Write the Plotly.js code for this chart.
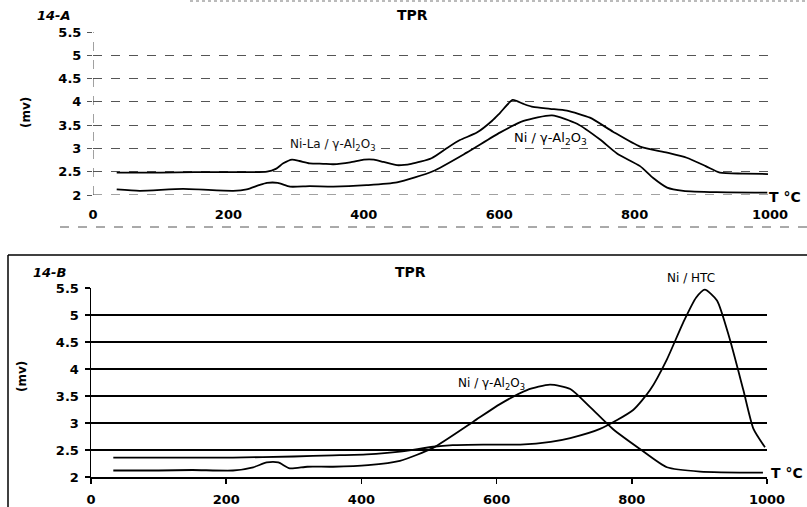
<!DOCTYPE html>
<html>
<head>
<meta charset="utf-8">
<script src="https://cdn.plot.ly/plotly-3.0.1.min.js"></script>
<style>html,body{margin:0;padding:0;background:#fff;}#chart{width:807px;height:507px;}</style>
</head>
<body>
<div id="chart"></div>
<script>
// ---- Data ----
// 14-A : Ni-La / γ-Al2O3
const tempA_NiLa = [35, 100, 150, 200, 257, 270, 281, 294, 305, 320, 340, 355, 380, 400, 415, 429, 449, 470, 500, 523, 542, 567, 590, 601, 620, 635, 650, 675, 700, 734, 768, 808, 848, 877, 905, 926, 960, 997];
const mvA_NiLa   = [2.48, 2.48, 2.49, 2.49, 2.50, 2.56, 2.68, 2.76, 2.73, 2.68, 2.67, 2.66, 2.70, 2.76, 2.76, 2.71, 2.64, 2.67, 2.79, 3.01, 3.18, 3.34, 3.60, 3.76, 4.04, 3.96, 3.89, 3.85, 3.81, 3.66, 3.36, 3.04, 2.91, 2.80, 2.62, 2.48, 2.46, 2.45];
// 14-A : Ni / γ-Al2O3
const tempA_Ni = [35, 69, 133, 207, 227, 245, 257, 273, 291, 320, 355, 404, 449, 502, 552, 601, 636, 678, 715, 749, 774, 808, 827, 848, 872, 921, 996];
const mvA_Ni   = [2.12, 2.09, 2.13, 2.09, 2.12, 2.21, 2.26, 2.26, 2.18, 2.19, 2.18, 2.21, 2.27, 2.51, 2.91, 3.34, 3.59, 3.71, 3.53, 3.19, 2.89, 2.62, 2.37, 2.16, 2.09, 2.06, 2.05];
// 14-B : Ni / γ-Al2O3
const tempB_Ni = [33, 100, 150, 210, 240, 260, 277, 294, 320, 358, 410, 457, 506, 565, 605, 645, 679, 709, 738, 772, 812, 852, 901, 994];
const mvB_Ni   = [2.12, 2.12, 2.13, 2.12, 2.18, 2.27, 2.27, 2.16, 2.19, 2.19, 2.22, 2.30, 2.54, 3.02, 3.35, 3.61, 3.71, 3.63, 3.30, 2.89, 2.52, 2.18, 2.10, 2.08];
// 14-B : Ni / HTC
const tempB_HTC = [33, 120, 210, 300, 358, 408, 457, 506, 535, 580, 635, 680, 709, 753, 802, 827, 852, 876, 895, 908, 926, 945, 965, 980, 997];
const mvB_HTC   = [2.36, 2.36, 2.36, 2.38, 2.40, 2.42, 2.47, 2.56, 2.59, 2.60, 2.60, 2.65, 2.72, 2.89, 3.24, 3.61, 4.18, 4.86, 5.32, 5.47, 5.27, 4.55, 3.61, 2.89, 2.55];

const xTicks = [0, 200, 400, 600, 800, 1000];
const yTicks = [2, 2.5, 3, 3.5, 4, 4.5, 5, 5.5];
const yTickText = ['2', '2.5', '3', '3.5', '4', '4.5', '5', '5.5'];

// ---- Layout helpers ----
const W = 807, H = 507;
const px = v => v / W;
const py = v => 1 - v / H;
const FONT = 'DejaVu Sans, Arial, sans-serif';
const tickFont = {family: FONT, size: 13, color: '#000', weight: 'bold'};
const lineStyle = {color: '#000', width: 1.8, shape: 'spline', smoothing: 0.6};

const traces = [
  {x: tempA_NiLa, y: mvA_NiLa, xaxis: 'x', yaxis: 'y', mode: 'lines', line: lineStyle, hoverinfo: 'skip'},
  {x: tempA_Ni, y: mvA_Ni, xaxis: 'x', yaxis: 'y', mode: 'lines', line: lineStyle, hoverinfo: 'skip'},
  {x: tempB_Ni, y: mvB_Ni, xaxis: 'x2', yaxis: 'y2', mode: 'lines', line: lineStyle, hoverinfo: 'skip'},
  {x: tempB_HTC, y: mvB_HTC, xaxis: 'x2', yaxis: 'y2', mode: 'lines', line: lineStyle, hoverinfo: 'skip'}
];

function xAxis(domain, anchor, solid) {
  return {
    domain: domain, anchor: anchor, range: [0, 1000], tickvals: xTicks, ticktext: xTicks.map(String),
    showgrid: false, zeroline: false, showline: solid, linecolor: '#000', linewidth: 1.5,
    ticks: solid ? 'outside' : '', ticklen: 5, tickcolor: '#000', tickwidth: 1.5,
    tickfont: tickFont, ticklabelstandoff: solid ? 5 : 10, fixedrange: true
  };
}
function yAxis(domain, anchor, solid) {
  return {
    domain: domain, anchor: anchor, range: [2, 5.5], tickvals: yTicks, ticktext: yTickText,
    showgrid: true, gridcolor: solid ? '#000' : '#555', gridwidth: solid ? 1.5 : 1,
    griddash: solid ? 'solid' : 'dash', zeroline: false,
    showline: solid, linecolor: '#000', linewidth: 1.5,
    ticks: 'outside', ticklen: 5, tickcolor: solid ? '#000' : '#555', tickwidth: solid ? 1.5 : 1,
    tickfont: tickFont, ticklabelstandoff: 3, fixedrange: true
  };
}

const layout = {
  width: W, height: H, margin: {l: 0, r: 0, t: 0, b: 0},
  paper_bgcolor: '#fff', plot_bgcolor: 'rgba(0,0,0,0)', showlegend: false,
  xaxis: xAxis([px(93), px(770)], 'y', false),
  yaxis: yAxis([py(195), py(32)], 'x', false),
  xaxis2: xAxis([px(91), px(767)], 'y2', true),
  yaxis2: yAxis([py(477), py(288)], 'x2', true),
  shapes: [
    // top chart: dashed axis lines
    {type: 'line', xref: 'x', yref: 'y', x0: 0, x1: 0, y0: 2, y1: 5.5, line: {color: '#444', width: 1, dash: 'dash'}},
    {type: 'line', xref: 'x', yref: 'y', x0: 0, x1: 1000, y0: 2, y1: 2, line: {color: '#444', width: 1, dash: 'dash'}},
    // top chart: dashed separators
    {type: 'line', xref: 'paper', yref: 'paper', x0: px(190), x1: px(807), y0: py(1), y1: py(1), line: {color: '#777', width: 1, dash: 'dot'}},
    {type: 'line', xref: 'paper', yref: 'paper', x0: px(60), x1: px(807), y0: py(227), y1: py(227), line: {color: '#555', width: 1, dash: 'dash'}},
    // bottom chart frame
    {type: 'line', xref: 'paper', yref: 'paper', x0: px(8), x1: px(807), y0: py(255), y1: py(255), line: {color: '#000', width: 1.5}},
    {type: 'line', xref: 'paper', yref: 'paper', x0: px(8), x1: px(8), y0: py(255), y1: 0, line: {color: '#000', width: 1.5}}
  ],
  annotations: [
    {xref: 'paper', yref: 'paper', x: px(35), y: py(15), xanchor: 'left', yanchor: 'middle', showarrow: false,
     text: '<b><i>14-A</i></b>', font: {family: FONT, size: 13, color: '#000'}},
    {xref: 'paper', yref: 'paper', x: px(413), y: py(15), xanchor: 'center', yanchor: 'middle', showarrow: false,
     text: '<b>TPR</b>', font: {family: FONT, size: 14, color: '#000'}},
    {xref: 'paper', yref: 'paper', x: px(26), y: py(112), xanchor: 'center', yanchor: 'middle', showarrow: false, textangle: -90,
     text: '<b>(mv)</b>', font: {family: FONT, size: 12, color: '#000'}},
    {xref: 'paper', yref: 'paper', x: px(767), y: py(197), xanchor: 'left', yanchor: 'middle', showarrow: false,
     text: '<b>T °C</b>', font: {family: FONT, size: 14, color: '#000'}},
    {xref: 'paper', yref: 'paper', x: px(332), y: py(145), xanchor: 'center', yanchor: 'middle', showarrow: false,
     text: 'Ni-La / γ-Al<sub>2</sub>O<sub>3</sub>', bgcolor: '#fff', borderpad: 0, font: {family: FONT, size: 12, color: '#111'}},
    {xref: 'paper', yref: 'paper', x: px(550), y: py(138), xanchor: 'center', yanchor: 'middle', showarrow: false,
     text: 'Ni / γ-Al<sub>2</sub>O<sub>3</sub>', font: {family: FONT, size: 13, color: '#000'}},

    {xref: 'paper', yref: 'paper', x: px(31), y: py(272), xanchor: 'left', yanchor: 'middle', showarrow: false,
     text: '<b><i>14-B</i></b>', font: {family: FONT, size: 13, color: '#000'}},
    {xref: 'paper', yref: 'paper', x: px(410), y: py(272), xanchor: 'center', yanchor: 'middle', showarrow: false,
     text: '<b>TPR</b>', font: {family: FONT, size: 14, color: '#000'}},
    {xref: 'paper', yref: 'paper', x: px(22), y: py(377), xanchor: 'center', yanchor: 'middle', showarrow: false, textangle: -90,
     text: '<b>(mv)</b>', font: {family: FONT, size: 12, color: '#000'}},
    {xref: 'paper', yref: 'paper', x: px(769), y: py(473), xanchor: 'left', yanchor: 'middle', showarrow: false,
     text: '<b>T °C</b>', font: {family: FONT, size: 14, color: '#000'}},
    {xref: 'paper', yref: 'paper', x: px(492), y: py(384), xanchor: 'center', yanchor: 'middle', showarrow: false,
     text: 'Ni / γ-Al<sub>2</sub>O<sub>3</sub>', font: {family: FONT, size: 12, color: '#000'}},
    {xref: 'paper', yref: 'paper', x: px(691), y: py(278), xanchor: 'center', yanchor: 'middle', showarrow: false,
     text: 'Ni / HTC', font: {family: FONT, size: 12, color: '#000'}}
  ]
};

Plotly.newPlot('chart', traces, layout, {staticPlot: true, displayModeBar: false});
</script>
</body>
</html>
